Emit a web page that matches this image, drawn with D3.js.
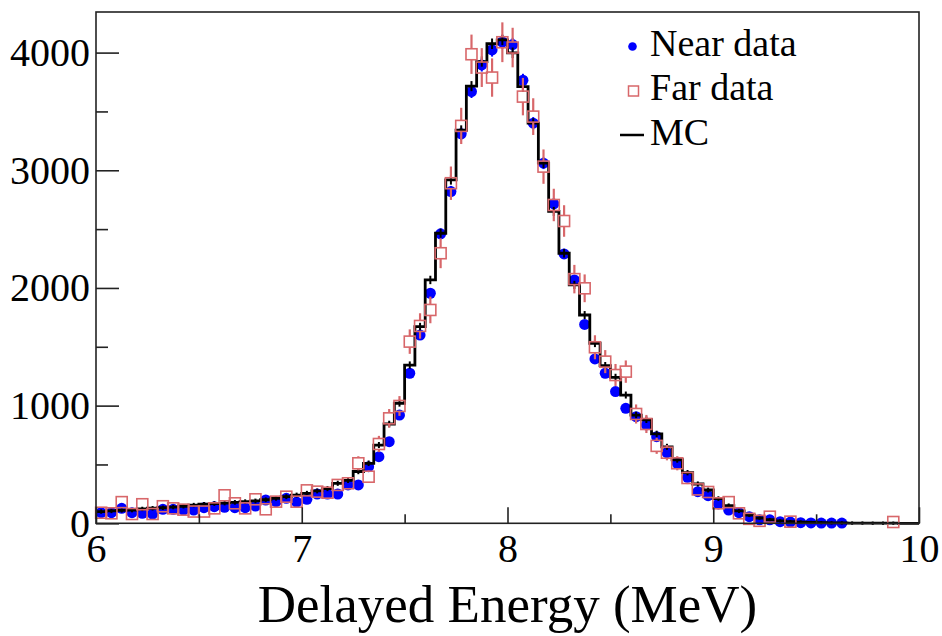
<!DOCTYPE html>
<html>
<head>
<meta charset="utf-8">
<script src="https://cdn.jsdelivr.net/npm/d3@7"></script>
<style>
  html, body { margin: 0; padding: 0; background: #fff; }
  svg { display: block; }
  text { font-family: "Liberation Serif", "DejaVu Serif", serif; fill: #000; }
</style>
</head>
<body>
<svg id="chart" width="942" height="636"></svg>
<script>
// ---- data (bins of 0.05 MeV from 6 to 10) ----
const binEdges = [6.00,6.05,6.10,6.15,6.20,6.25,6.30,6.35,6.40,6.45,6.50,6.55,6.60,6.65,6.70,6.75,6.80,6.85,6.90,6.95,
  7.00,7.05,7.10,7.15,7.20,7.25,7.30,7.35,7.40,7.45,7.50,7.55,7.60,7.65,7.70,7.75,7.80,7.85,7.90,7.95,
  8.00,8.05,8.10,8.15,8.20,8.25,8.30,8.35,8.40,8.45,8.50,8.55,8.60,8.65,8.70,8.75,8.80,8.85,8.90,8.95,
  9.00,9.05,9.10,9.15,9.20,9.25,9.30,9.35,9.40,9.45,9.50,9.55,9.60,9.65,9.70,9.75,9.80,9.85,9.90,9.95,10.00];

const nearData = [90,90,127,90,85,79,119,119,113,113,133,141,136,133,133,147,198,184,212,180,
  204,249,249,249,326,326,481,566,694,920,1275,1600,1955,2460,2819,3310,3669,3895,4023,4090,
  4068,3765,3400,3060,2714,2289,2068,1690,1397,1275,1119,977,906,836,736,600,510,391,269,235,
  165,113,90,56,30,30,14,10,5,3,2,2,2,null,null,null,null,null,null,null];
const nearErr = [9,9,10,9,8,8,10,10,10,10,10,11,11,10,10,11,13,12,13,12,
  13,14,14,14,16,16,20,21,24,27,32,36,40,45,48,52,55,56,57,58,
  57,55,52,50,47,43,41,37,34,32,30,28,27,26,24,22,20,18,15,14,
  12,10,9,7,5,5,4,3,2,2,1,1,1,null,null,null,null,null,null,null];

const farData = [90,85,180,79,162,79,145,127,116,100,100,127,238,170,127,204,119,184,226,184,
  280,269,260,326,340,510,396,674,892,997,1544,1677,1813,2295,2890,3377,3986,3873,3788,4088,
  4043,3626,3456,3031,2705,2569,2075,1997,1496,1374,1260,1289,929,844,658,600,510,385,288,266,
  170,180,85,38,21,56,null,14,null,null,null,null,null,null,null,null,null,11,null,null];
const farErr = [25,24,35,24,34,24,32,30,28,26,26,30,41,34,30,38,29,36,40,36,
  44,43,43,48,49,60,53,69,79,84,104,108,113,127,142,154,167,165,163,169,
  168,159,156,146,138,134,121,118,102,98,94,95,81,77,68,65,60,52,45,43,
  34,35,24,16,12,20,null,10,null,null,null,null,null,null,null,null,null,9,null,null];

const mcData = [100,105,110,112,122,128,132,138,145,155,162,168,172,178,184,190,200,212,226,240,
  255,275,295,340,365,440,510,665,844,1020,1345,1671,2068,2465,2918,3340,3715,3924,4075,4108,
  3998,3710,3400,3060,2650,2295,2026,1770,1530,1340,1240,1090,920,880,760,650,540,430,334,283,
  210,150,105,70,45,30,20,14,10,7,5,4,3,2,2,1,1,1,0,0];
const mcErr = [6,6,6,6,6,6,6,6,6,6,6,7,7,7,7,7,7,7,8,8,
  8,8,9,9,10,10,11,13,15,16,18,20,23,25,27,29,30,31,32,32,
  32,30,29,28,26,24,22,21,20,18,18,17,15,15,14,13,12,10,9,8,
  7,6,5,4,3,3,2,2,2,1,1,1,1,1,1,1,1,1,0,0];

const xTicks = [6,7,8,9,10];
const xMinor = [6.5,7.5,8.5,9.5];
const yTicks = [0,1000,2000,3000,4000];
const yMinor = [500,1500,2500,3500];
const legendItems = ["Near data","Far data","MC"];
const xTitle = "Delayed Energy (MeV)";

// ---- layout ----
const L = 96, R = 919, T = 12, B = 523.3;
const svg = d3.select("#chart");
svg.append("rect").attr("width",942).attr("height",636).attr("fill","#fff");

const x = d3.scaleLinear().domain([6,10]).range([L,R]);
const y = d3.scaleLinear().domain([0,4345]).range([B,T]);

const NEAR = "#0000ff", FAR = "#d8676a";

const bins = d3.range(mcData.length).map(i => ({
  lo: binEdges[i], hi: binEdges[i+1], c: (binEdges[i]+binEdges[i+1])/2,
  near: nearData[i], nearE: nearErr[i], far: farData[i], farE: farErr[i], mc: mcData[i], mcE: mcErr[i]
}));

const plot = svg.append("g");

// near data: error bars + dots
const nearBins = bins.filter(d => d.near !== null);
plot.append("g").selectAll("line").data(nearBins).join("line")
  .attr("x1", d => x(d.c)).attr("x2", d => x(d.c))
  .attr("y1", d => y(d.near + d.nearE)).attr("y2", d => y(Math.max(0, d.near - d.nearE)))
  .attr("stroke", NEAR).attr("stroke-width", 2);
plot.append("g").selectAll("circle").data(nearBins).join("circle")
  .attr("cx", d => x(d.c)).attr("cy", d => y(d.near)).attr("r", 5.5)
  .attr("fill", NEAR);

// MC histogram
const stepPts = bins.map(d => [d.lo, d.mc]).concat([[10, mcData[mcData.length-1]]]);
plot.append("path")
  .attr("d", d3.line().x(d => x(d[0])).y(d => y(d[1])).curve(d3.curveStepAfter)(stepPts))
  .attr("fill","none").attr("stroke","#000").attr("stroke-width",2.8).attr("stroke-linejoin","miter");
plot.append("g").selectAll("line").data(bins.filter(d => d.mcE > 0)).join("line")
  .attr("x1", d => x(d.c)).attr("x2", d => x(d.c))
  .attr("y1", d => y(d.mc + d.mcE) - 1.5).attr("y2", d => y(Math.max(0, d.mc - d.mcE)) + 1.5)
  .attr("stroke","#000").attr("stroke-width",2);

// far data: error bars (outside marker) + open squares
const S = 11, hs = S/2;
const farBins = bins.filter(d => d.far !== null);
const fg = plot.append("g");
farBins.forEach(d => {
  const cx = x(d.c), cy = y(d.far), top = y(d.far + d.farE), bot = y(Math.max(0, d.far - d.farE));
  if (cy - top > hs) fg.append("line").attr("x1",cx).attr("x2",cx).attr("y1",top).attr("y2",cy-hs)
      .attr("stroke",FAR).attr("stroke-width",2.2);
  if (bot - cy > hs) fg.append("line").attr("x1",cx).attr("x2",cx).attr("y1",cy+hs).attr("y2",bot)
      .attr("stroke",FAR).attr("stroke-width",2.2);
});
fg.selectAll("rect").data(farBins).join("rect")
  .attr("x", d => x(d.c) - hs).attr("y", d => y(d.far) - hs)
  .attr("width", S).attr("height", S)
  .attr("fill","none").attr("stroke",FAR).attr("stroke-width",1.6);

// frame
svg.append("rect").attr("x",L).attr("y",T).attr("width",R-L).attr("height",B-T)
  .attr("fill","none").attr("stroke","#222").attr("stroke-width",1.6);

// axes
const yAx = svg.append("g").attr("transform",`translate(${L},0)`)
  .call(d3.axisLeft(y).tickValues(yTicks).tickSize(-23).tickPadding(6).tickFormat(d3.format("d")));
const yMin = svg.append("g").attr("transform",`translate(${L},0)`)
  .call(d3.axisLeft(y).tickValues(yMinor).tickSize(-12).tickFormat(""));
const xAx = svg.append("g").attr("transform",`translate(0,${B})`)
  .call(d3.axisBottom(x).tickValues(xTicks).tickSize(-16).tickPadding(10).tickFormat(d3.format("d")));
const xMin = svg.append("g").attr("transform",`translate(0,${B})`)
  .call(d3.axisBottom(x).tickValues(xMinor).tickSize(-9).tickFormat(""));
[yAx,yMin,xAx,xMin].forEach(g => {
  g.select(".domain").remove();
  g.selectAll(".tick line").attr("stroke","#222").attr("stroke-width",1.6);
  g.selectAll("text").attr("font-family",'"Liberation Serif", serif').attr("font-size",40).attr("fill","#000");
});

// axis title
svg.append("text").attr("x",(L+R)/2).attr("y",622).attr("text-anchor","middle")
  .attr("font-size",53).text(xTitle);

// legend
const lg = svg.append("g");
const ly = [46.5, 91, 135];
lg.append("circle").attr("cx",632.5).attr("cy",ly[0]).attr("r",4.3).attr("fill",NEAR);
lg.append("rect").attr("x",633.5-5).attr("y",ly[1]-5).attr("width",10).attr("height",10)
  .attr("fill","none").attr("stroke",FAR).attr("stroke-width",1.5);
lg.append("line").attr("x1",620).attr("x2",644).attr("y1",ly[2]).attr("y2",ly[2])
  .attr("stroke","#000").attr("stroke-width",2.5);
legendItems.forEach((t,i) => {
  lg.append("text").attr("x",650).attr("y",[55.5,100,144.5][i]).attr("font-size",38).text(t);
});
</script>
</body>
</html>
